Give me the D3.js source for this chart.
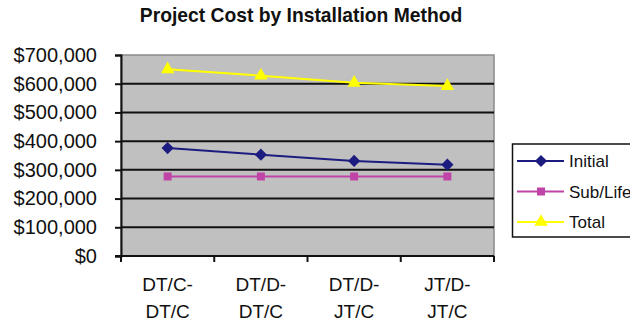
<!DOCTYPE html>
<html>
<head>
<meta charset="utf-8">
<script src="https://cdn.jsdelivr.net/npm/d3@7"></script>
<style>
  html, body { margin: 0; padding: 0; background: #fff; }
  svg { display: block; }
  text { font-family: "Liberation Sans", Arial, sans-serif; fill: #111; }
</style>
</head>
<body>
<svg id="chart" width="630" height="322"></svg>
<script>
// Installation methods (two-line category labels)
const categories = ["DT/C-\nDT/C", "DT/D-\nDT/C", "DT/D-\nJT/C", "JT/D-\nJT/C"];
const initialCost = [376000, 353000, 331000, 318000];
const subLifeCost = [277000, 277000, 277000, 277000];
const totalCost   = [650000, 628000, 603000, 592000];
const yTicks = [0, 100000, 200000, 300000, 400000, 500000, 600000, 700000];
const seriesNames = ["Initial", "Sub/Life", "Total"];

const series = [
  { name: seriesNames[0], values: initialCost, color: "#1c1c80", marker: d3.symbolDiamond2, size: 95 },
  { name: seriesNames[1], values: subLifeCost, color: "#c044a8", marker: d3.symbolSquare, size: 64 },
  { name: seriesNames[2], values: totalCost,   color: "#ffff00", marker: d3.symbolTriangle, size: 78 }
];

const svg = d3.select("#chart");
const plot = { left: 121, right: 494, top: 55, bottom: 256 };

const x = d3.scaleBand().domain(categories).range([plot.left, plot.right]);
const y = d3.scaleLinear().domain([0, 700000]).range([plot.bottom, plot.top]);

// Title
svg.append("text")
  .attr("x", 301).attr("y", 22)
  .attr("text-anchor", "middle")
  .style("font-size", "19.3px").style("font-weight", "bold")
  .text("Project Cost by Installation Method");

// Plot background
svg.append("rect")
  .attr("x", plot.left).attr("y", plot.top)
  .attr("width", plot.right - plot.left).attr("height", plot.bottom - plot.top)
  .attr("fill", "#c0c0c0")
  .attr("stroke", "#8a8a8a").attr("stroke-width", 1.5);

// Horizontal gridlines
svg.append("g").selectAll("line")
  .data(yTicks.filter(v => v > 0 && v < 700000))
  .join("line")
  .attr("x1", plot.left).attr("x2", plot.right)
  .attr("y1", d => y(d)).attr("y2", d => y(d))
  .attr("stroke", "#111").attr("stroke-width", 2);

// Y axis
const yAxis = svg.append("g")
  .attr("transform", `translate(${plot.left},0)`)
  .call(d3.axisLeft(y).tickValues(yTicks).tickSize(6).tickPadding(18)
    .tickFormat(d => "$" + d3.format(",")(d)));
yAxis.select(".domain").attr("stroke", "#111").attr("stroke-width", 2);
yAxis.selectAll(".tick line").attr("stroke", "#111").attr("stroke-width", 2);
yAxis.selectAll("text").style("font-size", "20px").style("font-family", "'Liberation Sans', Arial, sans-serif").attr("fill", "#111");

// X axis with ticks at band boundaries
const xg = svg.append("g").attr("transform", `translate(0,${plot.bottom})`);
xg.append("line")
  .attr("x1", plot.left - 6).attr("x2", plot.right)
  .attr("stroke", "#111").attr("stroke-width", 2);
const bounds = categories.map(c => x(c)).concat([x(categories[categories.length - 1]) + x.bandwidth()]);
xg.selectAll("line.tk").data(bounds).join("line")
  .attr("class", "tk")
  .attr("x1", d => d).attr("x2", d => d)
  .attr("y1", 0).attr("y2", 6)
  .attr("stroke", "#111").attr("stroke-width", 2);
const labels = xg.selectAll("text.cat").data(categories).join("text")
  .attr("class", "cat")
  .attr("text-anchor", "middle")
  .attr("transform", d => `translate(${x(d) + x.bandwidth() / 2},0)`)
  .style("font-size", "19px");
labels.selectAll("tspan").data(d => d.split("\n")).join("tspan")
  .attr("x", 0)
  .attr("y", (d, i) => 35 + i * 27)
  .text(d => d);

// Lines and markers
const line = d3.line()
  .x((d, i) => x(categories[i]) + x.bandwidth() / 2)
  .y(d => y(d));

series.forEach(s => {
  svg.append("path")
    .datum(s.values)
    .attr("d", line)
    .attr("fill", "none")
    .attr("stroke", s.color).attr("stroke-width", 2);
  svg.append("g").selectAll("path")
    .data(s.values)
    .join("path")
    .attr("transform", (d, i) => `translate(${x(categories[i]) + x.bandwidth() / 2},${y(d)})`)
    .attr("d", d3.symbol().type(s.marker).size(s.size))
    .attr("fill", s.color);
});

// Legend
const legend = svg.append("g");
legend.append("rect")
  .attr("x", 512.5).attr("y", 144)
  .attr("width", 130).attr("height", 93)
  .attr("fill", "#fff").attr("stroke", "#111").attr("stroke-width", 1.5);
series.forEach((s, i) => {
  const ly = 161 + i * 30.5;
  legend.append("line")
    .attr("x1", 517).attr("x2", 564).attr("y1", ly).attr("y2", ly)
    .attr("stroke", s.color).attr("stroke-width", 2);
  legend.append("path")
    .attr("transform", `translate(541,${ly})`)
    .attr("d", d3.symbol().type(s.marker).size(s.size))
    .attr("fill", s.color);
  legend.append("text")
    .attr("x", 569).attr("y", ly + 6)
    .style("font-size", "17px")
    .text(s.name);
});
</script>
</body>
</html>
